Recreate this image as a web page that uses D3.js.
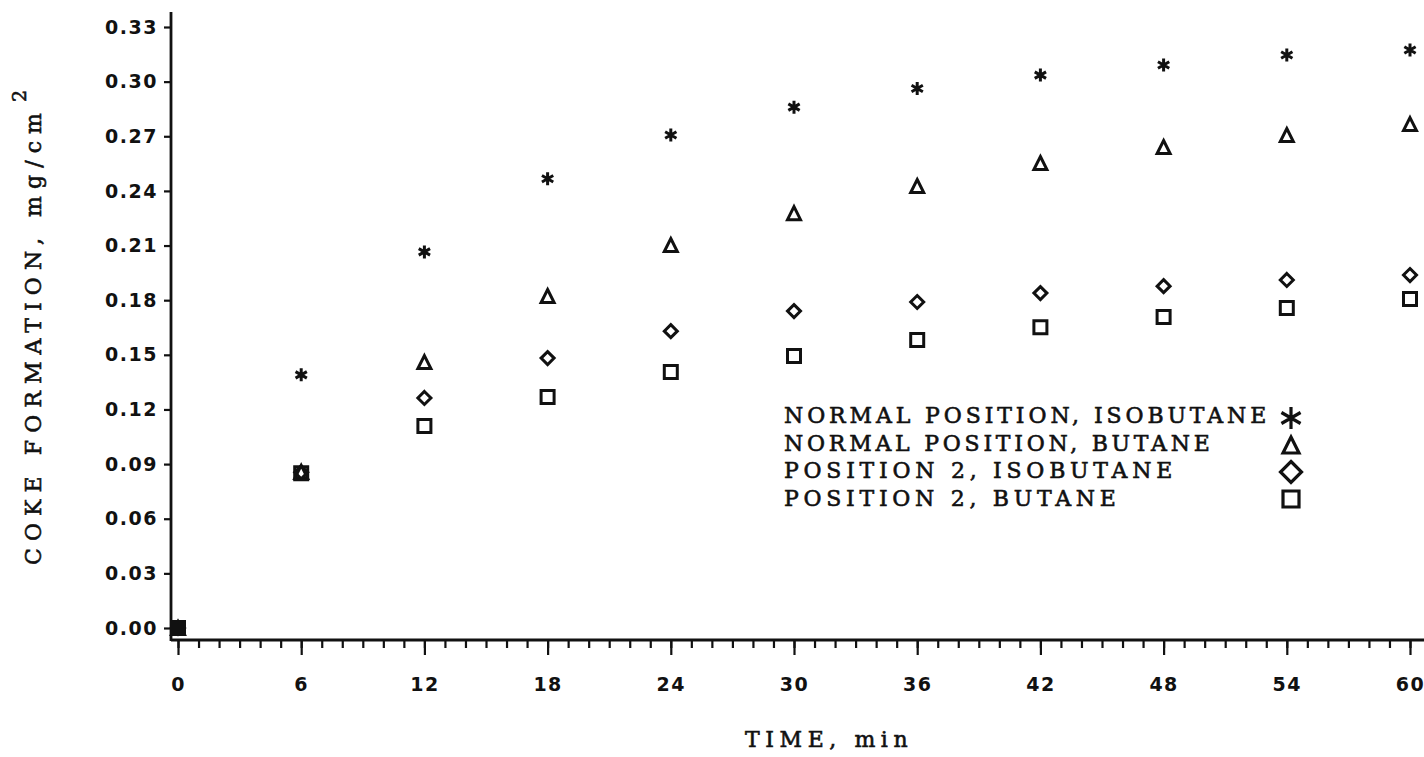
<!DOCTYPE html>
<html>
<head>
<meta charset="utf-8">
<script src="https://cdn.jsdelivr.net/npm/d3@7"></script>
<style>
	body { margin: 0; background: #fff; }
	svg { display: block; }
</style>
</head>
<body>
<svg class="chart"></svg>
<script>
var times = [0, 6, 12, 18, 24, 30, 36, 42, 48, 54, 60];
var normalIsobutane = [0, 0.139, 0.2065, 0.2467, 0.2707, 0.286, 0.2962, 0.3036, 0.3091, 0.3146, 0.3174];
var normalButane = [0, 0.0857, 0.146, 0.1823, 0.2103, 0.2278, 0.2427, 0.2553, 0.2641, 0.2707, 0.2767];
var pos2Isobutane = [0, 0.0855, 0.1263, 0.1482, 0.163, 0.174, 0.179, 0.1839, 0.1877, 0.1911, 0.1938];
var pos2Butane = [0, 0.085, 0.1109, 0.1268, 0.1405, 0.1493, 0.1581, 0.1652, 0.1707, 0.1757, 0.1806];

var yTickValues = [0, 0.03, 0.06, 0.09, 0.12, 0.15, 0.18, 0.21, 0.24, 0.27, 0.30, 0.33];
var minorTimes = d3.range(0, 61, 1);

var seriesNames = ["NORMAL POSITION, ISOBUTANE", "NORMAL POSITION, BUTANE", "POSITION 2, ISOBUTANE", "POSITION 2, BUTANE"];
var seriesShapes = ["asterisk", "triangle", "diamond", "square"];
var seriesValues = [normalIsobutane, normalButane, pos2Isobutane, pos2Butane];

var width = 1424;
var height = 757;
var typeFont = "'DejaVu Serif', 'Liberation Serif', serif";
var pitch = 18.8; // typewriter character pitch

var svg = d3.select(".chart")
	.attr("width", width)
	.attr("height", height);

var x = d3.scaleLinear().domain([0, 60]).range([178, 1410]);
var y = d3.scaleLinear().domain([0, 0.33]).range([628, 27]);

var axisY = 640;
var axisX = 171;

// marker shapes, s = half size
function shapePath(shape, s) {
	var p = d3.path();
	if (shape == "asterisk") {
		var a = s * 0.87, b = s * 0.5;
		p.moveTo(0, -s); p.lineTo(0, s);
		p.moveTo(-a, -b); p.lineTo(a, b);
		p.moveTo(-a, b); p.lineTo(a, -b);
	} else if (shape == "triangle") {
		p.moveTo(0, -s); p.lineTo(s, s); p.lineTo(-s, s); p.closePath();
	} else if (shape == "diamond") {
		p.moveTo(0, -s); p.lineTo(s, 0); p.lineTo(0, s); p.lineTo(-s, 0); p.closePath();
	} else {
		p.rect(-s, -s, 2 * s, 2 * s);
	}
	return p.toString();
}

// typewriter-ish text: serif face with a thin outline to thicken it
function typeText(sel, size) {
	return sel
		.style("font-family", typeFont)
		.style("font-size", size + "px")
		.attr("fill", "#111")
		.attr("stroke", "#111")
		.attr("stroke-width", 0.6);
}

// x axis: minor then major ticks
var xMinor = d3.axisBottom(x).tickValues(minorTimes).tickSize(8).tickFormat("");
svg.append("g")
	.attr("class", "x-minor")
	.attr("transform", "translate(0," + axisY + ")")
	.call(xMinor);

var xMajor = d3.axisBottom(x).tickValues(times).tickSize(15).tickPadding(23).tickFormat(d3.format("d"));
svg.append("g")
	.attr("class", "x-major")
	.attr("transform", "translate(0," + axisY + ")")
	.call(xMajor);

var yAxis = d3.axisLeft(y).tickValues(yTickValues).tickSize(7).tickPadding(6).tickFormat(d3.format(".2f"));
svg.append("g")
	.attr("class", "y-axis")
	.attr("transform", "translate(" + axisX + ",0)")
	.call(yAxis);

svg.selectAll(".domain").remove();
svg.selectAll(".tick line")
	.attr("stroke", "#111")
	.attr("stroke-width", 2.2);
svg.selectAll(".tick text")
	.attr("fill", "#111")
	.style("font-family", "'DejaVu Sans', sans-serif")
	.style("font-weight", "bold")
	.style("font-size", "19px")
	.style("letter-spacing", "1.5px");

svg.append("line")
	.attr("x1", axisX).attr("x2", width)
	.attr("y1", axisY).attr("y2", axisY)
	.attr("stroke", "#111").attr("stroke-width", 2.8);
svg.append("line")
	.attr("x1", axisX).attr("x2", axisX)
	.attr("y1", y(0.33) - 15).attr("y2", axisY + 1)
	.attr("stroke", "#111").attr("stroke-width", 2.8);

// data points
seriesValues.forEach(function(vals, i) {
	svg.append("g")
		.attr("class", "series-" + i)
		.selectAll("path")
		.data(vals)
		.enter()
		.append("path")
			.attr("transform", function(d, j) { return "translate(" + x(times[j]) + "," + y(d) + ")"; })
			.attr("d", shapePath(seriesShapes[i], 6.5))
			.attr("fill", "none")
			.attr("stroke", "#111")
			.attr("stroke-width", 3);
});

// where every series sits on the same value the plotter pen filled the spot
svg.append("g")
	.attr("class", "coincident")
	.selectAll("rect")
	.data(times.filter(function(t, j) {
		return seriesValues.every(function(v) { return v[j] == seriesValues[0][j]; });
	}))
	.enter()
	.append("rect")
		.attr("x", function(t) { return x(t) - 7; })
		.attr("y", function(t) { return y(seriesValues[0][times.indexOf(t)]) - 7; })
		.attr("width", 14)
		.attr("height", 14)
		.attr("fill", "#111");

// legend
var legend = svg.append("g").attr("class", "legend");
var legendSizes = [11, 8, 10.5, 8];
seriesNames.forEach(function(name, i) {
	legend.append("text")
		.attr("x", 784)
		.attr("y", 423 + i * 27.7)
		.attr("textLength", (name.length - 0.35) * pitch)
		.attr("lengthAdjust", "spacing")
		.call(typeText, 22)
		.text(name);
	legend.append("path")
		.attr("transform", "translate(1291," + (418 + i * 27) + ")")
		.attr("d", shapePath(seriesShapes[i], legendSizes[i]))
		.attr("fill", "none")
		.attr("stroke", "#111")
		.attr("stroke-width", 3.2);
});

// axis titles
var xTitle = "TIME, min";
svg.append("text")
	.attr("x", 745)
	.attr("y", 747)
	.attr("textLength", (xTitle.length - 0.35) * pitch)
	.attr("lengthAdjust", "spacing")
	.call(typeText, 22)
	.text(xTitle);

var yTitle = svg.append("g").attr("transform", "translate(41,565) rotate(-90)");
yTitle.append("text")
	.attr("x", 0)
	.attr("y", 0)
	.attr("textLength", 452)
	.attr("lengthAdjust", "spacing")
	.call(typeText, 22)
	.text("COKE FORMATION, mg/cm");
yTitle.append("text")
	.attr("x", 463)
	.attr("y", -15)
	.call(typeText, 19)
	.text("2");
</script>
</body>
</html>
